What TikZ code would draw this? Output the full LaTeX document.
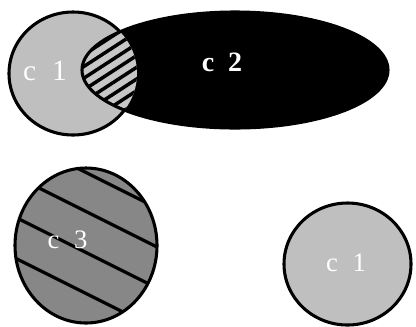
\documentclass[tikz,border=0pt]{standalone}
\usepackage{fontspec}
\setmainfont{Liberation Serif}
\definecolor{lightg}{gray}{0.75}
\definecolor{hatchg}{gray}{0.78}
\definecolor{darkg}{gray}{0.53}
\begin{document}
\begin{tikzpicture}[x=0.75pt,y=-0.75pt]
\tikzset{
  lbl/.style={text=white, font=\fontsize{20}{20}\selectfont, anchor=base, inner sep=0pt},
  outline/.style={draw=black, line width=2.3pt},
  stripe/.style={draw=black, line width=2.4pt}
}
\useasboundingbox (0,0) rectangle (416,326);
% top c1
\path[outline, fill=lightg] (73,73.5) ellipse [x radius=64, y radius=61.5];
% c2
\path[fill=black] (235,70) ellipse [x radius=153, y radius=58];
% intersection
\begin{scope}
  \clip (73,73.5) ellipse [x radius=64, y radius=61.5];
  \clip (235,70) ellipse [x radius=153, y radius=58];
  \fill[hatchg] (0,0) rectangle (200,150);
  \foreach \k in {-8,...,8} \draw[stripe, line width=2.6pt] (60,{82+11.7*\k}) -- ++(120,-78);
\end{scope}
\draw[outline] (235,70) ellipse [x radius=153, y radius=58];
% c3
\path[fill=darkg] (86,245.5) ellipse [x radius=71, y radius=77.5];
\begin{scope}
  \clip (86,245.5) ellipse [x radius=71, y radius=77.5];
  \foreach \y in {152,191,232,273,314} \draw[stripe] (0,{\y-22.5}) -- ++(200,100);
\end{scope}
\draw[outline] (86,245.5) ellipse [x radius=71, y radius=77.5];
% bottom c1
\path[outline, fill=lightg] (347.5,264) ellipse [x radius=63.5, y radius=61];
% labels
\node[lbl, font=\fontsize{22}{22}\selectfont] (l1) at (45,80) {c\hspace{0.55em}1};
\node[lbl, font=\fontsize{21}{21}\selectfont\bfseries] (l2) at (222,71.5) {c\hspace{0.5em}2};
\node[lbl] (l3) at (67.5,248) {c\hspace{0.55em}3};
\node[lbl] (l4) at (346,271.5) {c\hspace{0.55em}1};
\end{tikzpicture}
\end{document}
